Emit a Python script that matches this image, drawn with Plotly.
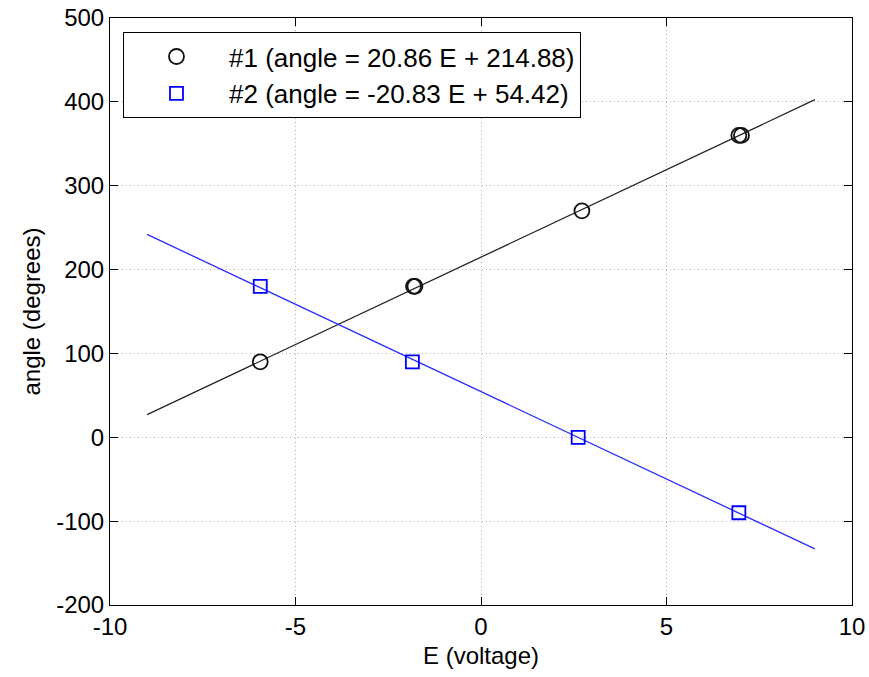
import plotly.graph_objects as go

# Measured data
e1 = [-5.95, -1.82, -1.78, 2.72, 6.95, 7.02]
angle1 = [90, 180, 180, 270, 360, 360]
e2 = [-5.95, -1.85, 2.62, 6.95]
angle2 = [180, 90, 0, -90]

# Fit line endpoints (angle = 20.86 E + 214.88, angle = -20.83 E + 54.42)
fit_e = [-9, 9]
fit1 = [27.1, 402.6]
fit2 = [241.9, -133.1]

name1 = "#1 (angle = 20.86 E + 214.88)"
name2 = "#2 (angle = -20.83 E + 54.42)"

x_ticks = [-10, -5, 0, 5, 10]
y_ticks = [-200, -100, 0, 100, 200, 300, 400, 500]

FONT = "Liberation Sans, Arial, sans-serif"

fig = go.Figure()
fig.add_trace(go.Scatter(x=fit_e, y=fit1, mode="lines",
                         line=dict(color="#222222", width=1.3), showlegend=False))
fig.add_trace(go.Scatter(x=fit_e, y=fit2, mode="lines",
                         line=dict(color="#2a2aff", width=1.3), showlegend=False))
fig.add_trace(go.Scatter(x=e1, y=angle1, mode="markers", name=name1,
                         marker=dict(symbol="circle-open", size=15, color="#111111",
                                     line=dict(width=1.8, color="#111111"))))
fig.add_trace(go.Scatter(x=e2, y=angle2, mode="markers", name=name2,
                         marker=dict(symbol="square-open", size=13, color="#0000ff",
                                     line=dict(width=1.8, color="#0000ff"))))

axis_common = dict(
    showline=True, linecolor="black", linewidth=1, mirror="ticks",
    ticks="inside", ticklen=8, tickcolor="black", tickwidth=1,
    showgrid=True, gridcolor="#b0b0b0", griddash="1px,3px", gridwidth=1,
    zeroline=False, tickfont=dict(size=24, color="black", family=FONT),
    automargin=False, ticklabeloverflow="allow",
)

fig.update_xaxes(range=[-10, 10], tickvals=x_ticks, ticktext=[str(v) for v in x_ticks],
                 title=dict(text="E (voltage)", font=dict(size=24, color="black", family=FONT),
                            standoff=8),
                 **axis_common)
fig.update_yaxes(range=[-200, 500], tickvals=y_ticks, ticktext=[str(v) for v in y_ticks],
                 title=dict(text="angle (degrees)", font=dict(size=24, color="black", family=FONT),
                            standoff=8),
                 **axis_common)

fig.update_layout(
    width=869, height=677,
    margin=dict(l=110, r=17, t=18, b=72),
    paper_bgcolor="white", plot_bgcolor="white",
    font=dict(family=FONT, size=24, color="black"),
    legend=dict(x=0.0175, y=0.976, xanchor="left", yanchor="top",
                bgcolor="white", bordercolor="black", borderwidth=1,
                font=dict(size=26, family=FONT, color="black"),
                itemwidth=95),
)

fig.write_html("out.html",
               config={"displayModeBar": False},
               post_script="document.body.style.margin='0';document.body.style.overflow='hidden';")
